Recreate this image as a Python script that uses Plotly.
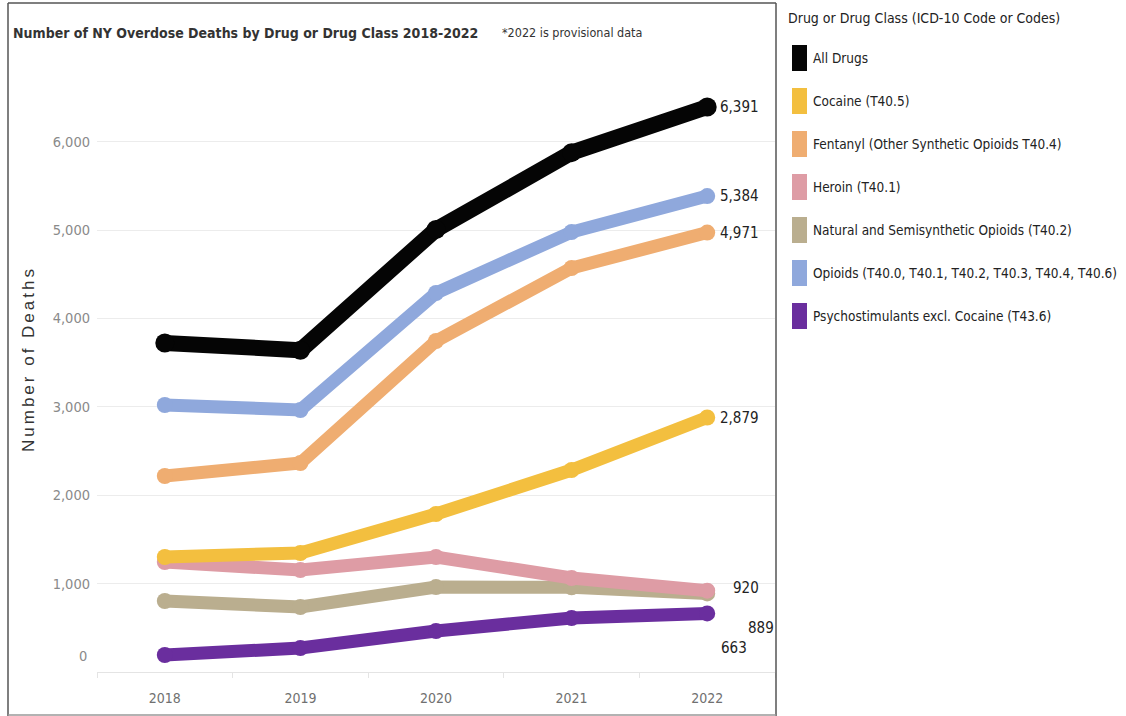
import plotly.graph_objects as go

# ---- data -------------------------------------------------------------
years = ["2018", "2019", "2020", "2021", "2022"]

all_drugs = [3722, 3640, 5005, 5875, 6391]
cocaine = [1301, 1346, 1787, 2285, 2879]
fentanyl = [2217, 2364, 3744, 4570, 4971]
heroin = [1244, 1154, 1301, 1063, 920]
natural_semi = [803, 735, 961, 958, 889]
opioids = [3020, 2964, 4287, 4977, 5384]
psychostim = [192, 271, 464, 611, 663]

series_names = [
    "All Drugs",
    "Cocaine (T40.5)",
    "Fentanyl (Other Synthetic Opioids T40.4)",
    "Heroin (T40.1)",
    "Natural and Semisynthetic Opioids (T40.2)",
    "Opioids (T40.0, T40.1, T40.2, T40.3, T40.4, T40.6)",
    "Psychostimulants excl. Cocaine (T43.6)",
]
series_values = [all_drugs, cocaine, fentanyl, heroin, natural_semi, opioids, psychostim]
series_colors = ["#050505", "#F3BF3F", "#EFAD71", "#DE9CA5", "#BAAE8F", "#8FA8DC", "#6A2E9E"]

y_ticks = [0, 1000, 2000, 3000, 4000, 5000, 6000]

title_text = "Number of NY Overdose Deaths by Drug or Drug Class 2018-2022"
note_text = "*2022 is provisional data"
legend_title = "Drug or Drug Class (ICD-10 Code or Codes)"
y_title = "Number of Deaths"

# ---- layout geometry (pixels) ------------------------------------------
W, H = 1126, 716
ML, MR, MT, MB = 97, 351, 56, 44
PW, PH = W - ML - MR, H - MT - MB

NARROW = "DejaVu Sans Condensed, DejaVu Sans, sans-serif"
REGULAR = "Liberation Sans, Arial, sans-serif"


def px_x(px):
    return (px - ML) / PW


def px_y(py):
    return 1 - (py - MT) / PH


fig = go.Figure()

# draw order: lower series first, totals on top
draw_order = [4, 3, 6, 1, 2, 5, 0]
for i in draw_order:
    width = 16 if i == 0 else 13
    fig.add_trace(go.Scatter(
        x=years, y=series_values[i], name=series_names[i],
        mode="lines+markers",
        line=dict(color=series_colors[i], width=width),
        marker=dict(color=series_colors[i], size=width + 3),
        showlegend=False, hoverinfo="x+y+name",
    ))

annotations = []

# end-of-line value labels (offsets keep the low series apart)
last = len(years) - 1
label_offsets = {0: (11, 0), 5: (11, 0), 2: (11, 0), 1: (11, 0),
                 3: (24, 3), 4: (39, -35), 6: (12, -35)}
for i, (dx, dy) in label_offsets.items():
    v = series_values[i][last]
    annotations.append(dict(
        x=last, y=v, xref="x", yref="y", text=f"{v:,}",
        showarrow=False, xanchor="left", yanchor="middle",
        xshift=dx, yshift=dy,
        font=dict(family=NARROW, size=15, color="#222222"),
    ))

# title and note
annotations.append(dict(
    x=px_x(11), y=px_y(33), xref="paper", yref="paper", text=f"<b>{title_text}</b>",
    showarrow=False, xanchor="left", yanchor="middle",
    font=dict(family=NARROW, size=14, color="#333333"),
))
annotations.append(dict(
    x=px_x(500), y=px_y(33), xref="paper", yref="paper", text=note_text,
    showarrow=False, xanchor="left", yanchor="middle",
    font=dict(family=NARROW, size=12.5, color="#333333"),
))

# y-axis title
annotations.append(dict(
    x=px_x(29), y=px_y(359), xref="paper", yref="paper",
    text=f'<span style="letter-spacing:3px">{y_title}</span>',
    showarrow=False, textangle=-90, xanchor="center", yanchor="middle",
    font=dict(family=REGULAR, size=17, color="#333333"),
))

# the zero tick label sits a little above its gridline
annotations.append(dict(
    x=px_x(89), y=px_y(656), xref="paper", yref="paper", text="0",
    showarrow=False, xanchor="right", yanchor="middle",
    font=dict(family=NARROW, size=14.5, color="#8a8a8a"),
))

# custom legend
shapes = []
annotations.append(dict(
    x=px_x(786), y=px_y(18), xref="paper", yref="paper", text=legend_title,
    showarrow=False, xanchor="left", yanchor="middle",
    font=dict(family=NARROW, size=14, color="#222222"),
))
for k, (name, color) in enumerate(zip(series_names, series_colors)):
    cy = 58 + 43 * k
    shapes.append(dict(
        type="rect", xref="paper", yref="paper",
        x0=px_x(792), x1=px_x(807), y0=px_y(cy - 13), y1=px_y(cy + 13),
        fillcolor=color, line=dict(width=0),
    ))
    annotations.append(dict(
        x=px_x(811), y=px_y(cy), xref="paper", yref="paper", text=name,
        showarrow=False, xanchor="left", yanchor="middle",
        font=dict(family=NARROW, size=13.5, color="#222222"),
    ))

# frame around the chart panel
frame = dict(color="#555555", width=1.5)
shapes.append(dict(type="line", xref="paper", yref="paper",
                   x0=px_x(8), x1=px_x(8), y0=px_y(3), y1=px_y(716), line=frame))
shapes.append(dict(type="line", xref="paper", yref="paper",
                   x0=px_x(776), x1=px_x(776), y0=px_y(3), y1=px_y(716), line=frame))
shapes.append(dict(type="line", xref="paper", yref="paper",
                   x0=px_x(8), x1=px_x(776), y0=px_y(3), y1=px_y(3), line=frame))
shapes.append(dict(type="line", xref="paper", yref="paper",
                   x0=px_x(8), x1=px_x(776), y0=px_y(715), y1=px_y(715),
                   line=dict(color="#999999", width=1.5)))

fig.update_layout(
    width=W, height=H,
    margin=dict(l=ML, r=MR, t=MT, b=MB, autoexpand=False),
    paper_bgcolor="white", plot_bgcolor="white",
    showlegend=False,
    annotations=annotations, shapes=shapes,
    xaxis=dict(
        type="category", range=[-0.5, 4.5], automargin=False,
        showgrid=False, showline=True, linecolor="#e4e4e4", linewidth=1,
        ticks="outside", tickson="boundaries", ticklen=5, tickcolor="#e4e4e4",
        ticklabelstandoff=13,
        tickfont=dict(family=NARROW, size=14, color="#707070"),
        fixedrange=True,
    ),
    yaxis=dict(
        range=[0, PH / 0.0884], automargin=False,
        tickvals=y_ticks,
        ticktext=[f"{v:,}" if v else "" for v in y_ticks],
        showgrid=True, gridcolor="#ececec", gridwidth=1,
        zeroline=False, showline=False, ticks="",
        ticklabelstandoff=6,
        tickfont=dict(family=NARROW, size=14.5, color="#8a8a8a"),
        fixedrange=True,
    ),
)

fig.write_html("out.html")
